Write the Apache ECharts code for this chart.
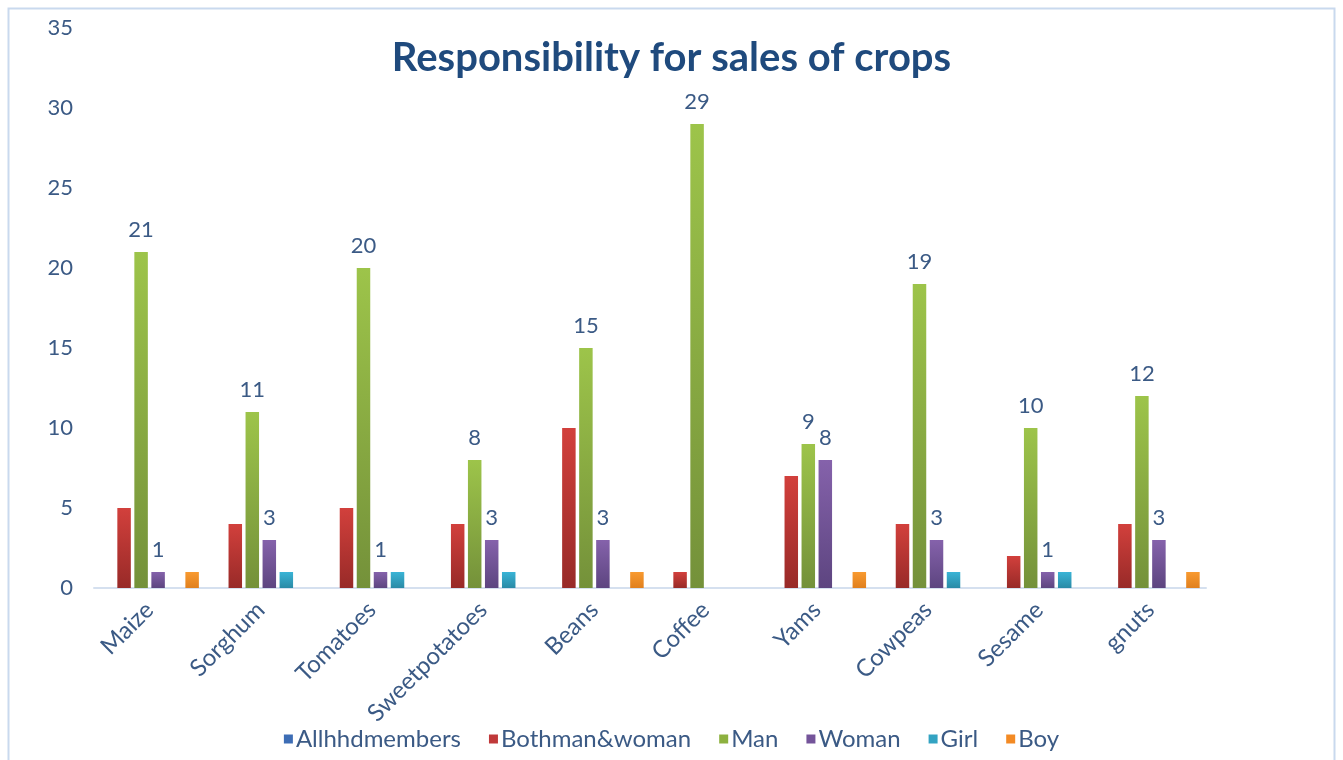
<!DOCTYPE html>
<html><head><meta charset="utf-8">
<script src="https://cdn.jsdelivr.net/npm/echarts@6/dist/echarts.min.js"></script>
<style>html,body{margin:0;padding:0;background:#fff}#c{width:1343px;height:760px}</style>
</head><body><div id="c"></div>
<script>
const categories = ['Maize','Sorghum','Tomatoes','Sweetpotatoes','Beans','Coffee','Yams','Cowpeas','Sesame','gnuts'];
const allhhd     = [0,0,0,0,0,0,0,0,0,0];
const bothManWoman = [5,4,5,4,10,1,7,4,2,4];
const man        = [21,11,20,8,15,29,9,19,10,12];
const woman      = [1,3,1,3,3,0,8,3,1,3];
const girl       = [0,1,1,1,0,0,0,1,1,0];
const boy        = [1,0,0,0,1,0,1,0,0,1];
const yTicks = [0,5,10,15,20,25,30,35];

const txt = '#3b5a85';
const font = 'Lato, "Open Sans", sans-serif';
function grad(top, bottom){
  return new echarts.graphic.LinearGradient(0,0,0,1,[{offset:0,color:top},{offset:1,color:bottom}]);
}
function ser(name, data, top, bottom, legendColor, labels){
  return {
    name, type:'bar', data, barWidth:13.5, barGap:'26%', barCategoryGap:'11%',
    itemStyle:{color:grad(top,bottom)},
    label: labels ? {show:true, position:'top', distance:11, color:txt, fontSize:22, fontFamily:font,
      formatter:p => p.value ? String(p.value) : ''} : {show:false},
    legendColor
  };
}
const series = [
  ser('Allhhdmembers', allhhd, '#4f81bd', '#385d8a', '#3d6db5', false),
  ser('Bothman&woman', bothManWoman, '#d2403c', '#982a28', '#c0393a', false),
  ser('Man', man, '#9dc44a', '#74913a', '#8db13f', true),
  ser('Woman', woman, '#8562ab', '#5d4580', '#74549a', true),
  ser('Girl', girl, '#3ab4d6', '#2a8aa6', '#33a3c2', false),
  ser('Boy', boy, '#f89a30', '#e0801e', '#f38a24', false)
];
const chart = echarts.init(document.getElementById('c'), null, {renderer:'canvas'});
chart.setOption({
  animation:false,
  backgroundColor:'#fff',
  color: series.map(s=>s.legendColor),
  title:{text:'Responsibility for sales of crops', left:'center', top:33,
    textStyle:{color:'#1f4a7d', fontSize:40, fontWeight:'bold', fontFamily:font}},
  legend:{bottom:4, left:'center', itemWidth:9, itemHeight:9, itemGap:28, icon:'rect',
    textStyle:{color:txt, fontSize:24, fontFamily:font, padding:[0,0,0,-2]},
    data: series.map(s=>({name:s.name, itemStyle:{color:s.legendColor}}))},
  grid:{left:94, right:137, top:28, bottom:172, containLabel:false},
  xAxis:{type:'category', data:categories,
    axisLine:{lineStyle:{color:'#d5e0ef', width:2}}, axisTick:{show:false},
    axisLabel:{rotate:45, color:txt, fontSize:24, fontFamily:font, margin:18, interval:0}},
  yAxis:{type:'value', min:yTicks[0], max:yTicks[yTicks.length-1], interval:5,
    axisLine:{show:false}, axisTick:{show:false}, splitLine:{show:false},
    axisLabel:{color:txt, fontSize:22, fontFamily:font, margin:21}},
  series: series.map(s=>{const o={...s}; delete o.legendColor; o.itemStyle={color:s.itemStyle.color}; return o;}),
  graphic:[{type:'rect', shape:{x:8.5,y:8.5,width:1326,height:800}, style:{fill:'none', stroke:'#c9d9ee', lineWidth:2}, silent:true, z:-1}]
});
</script></body></html>
